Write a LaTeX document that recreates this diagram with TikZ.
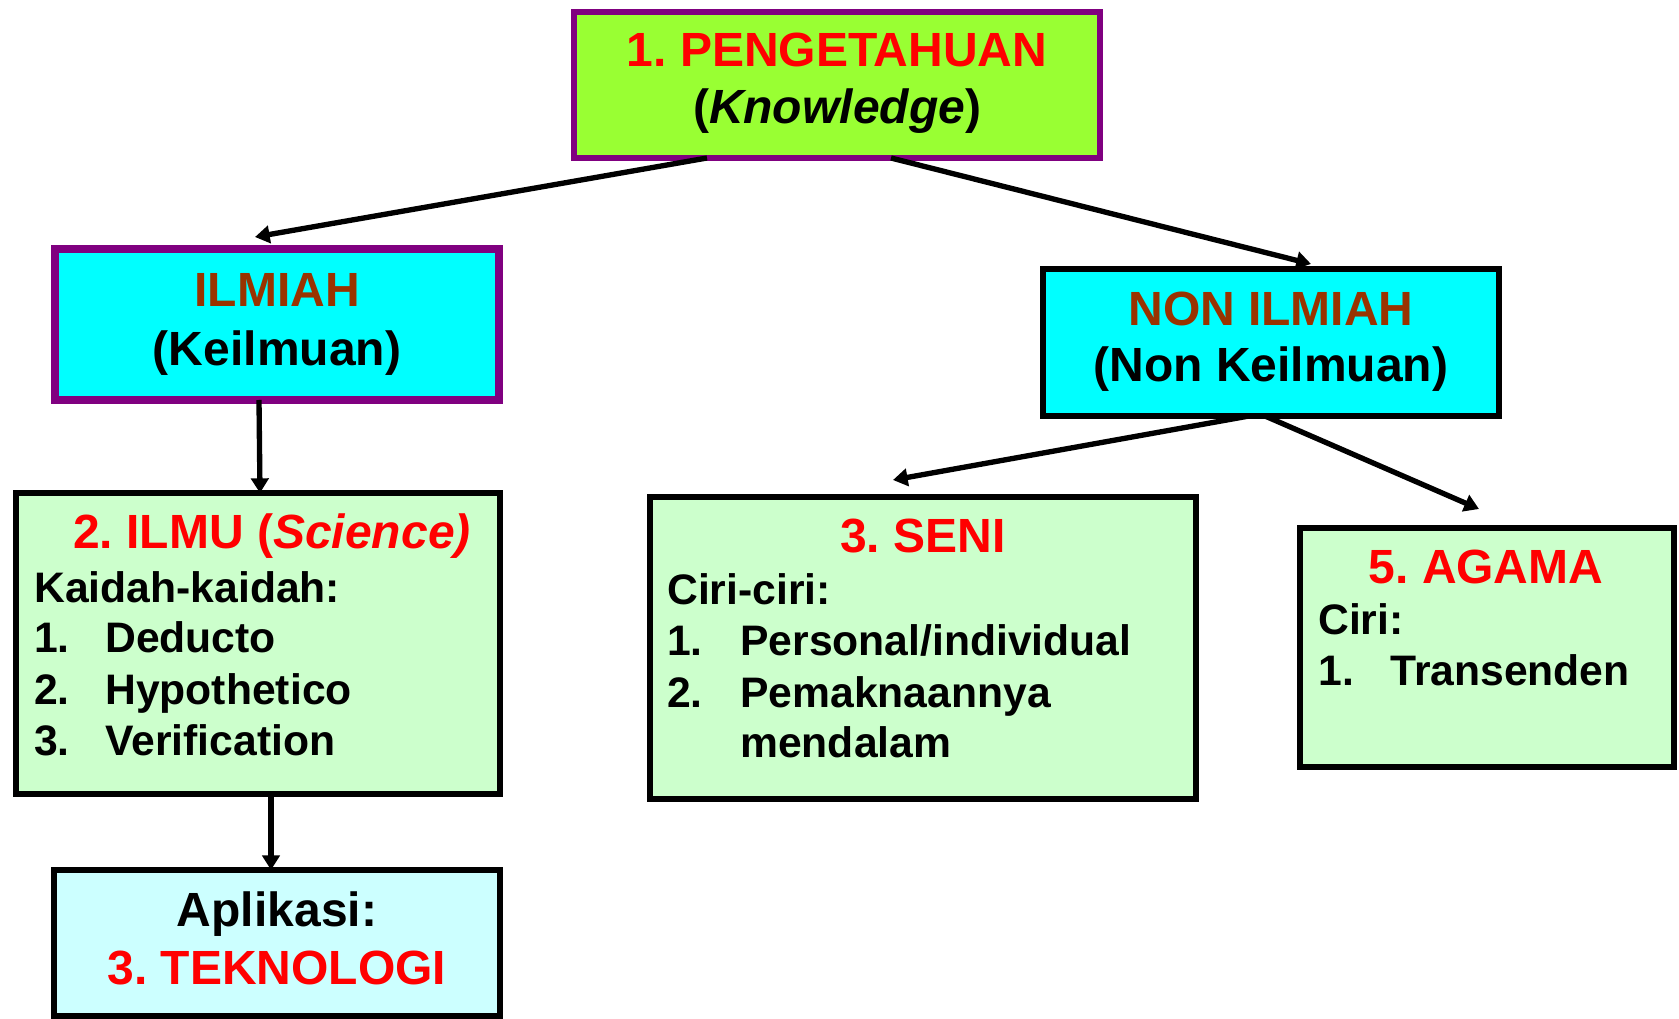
\documentclass[tikz,border=0pt]{standalone}
\usepackage{fontspec}
\setmainfont{Liberation Sans}
\usetikzlibrary{arrows.meta,calc}
\definecolor{purp}{HTML}{800080}
\definecolor{lime}{HTML}{99FF33}
\definecolor{cyanb}{HTML}{00FFFF}
\definecolor{brownt}{HTML}{993300}
\definecolor{redt}{HTML}{FF0000}
\definecolor{palegreen}{HTML}{CCFFCC}
\definecolor{palecyan}{HTML}{CCFFFF}
\frenchspacing
\begin{document}
\begin{tikzpicture}[x=0.75pt,y=-0.75pt,
  box/.style={draw, line width=4.8pt, inner sep=0pt, outer sep=0pt},
  sz/.style 2 args={minimum width=#1*0.75pt, minimum height=#2*0.75pt},
  ttl/.style={font=\fontsize{36}{43}\selectfont\bfseries, anchor=base, inner sep=0pt},
  ttlw/.style={font=\fontsize{36}{43}\selectfont\bfseries, anchor=base west, inner sep=0pt},
  txt/.style={font=\fontsize{32}{38}\selectfont\bfseries, anchor=base west, inner sep=0pt},
  arr/.style={line width=4pt, -{Triangle[length=11pt,width=13pt]}}]
\useasboundingbox (0,0) rectangle (1679,1019);

% boxes
\node[box, line width=4.3pt, draw=purp, fill=lime, sz={526}{146}] (top) at (837,85) {};
\node[box, line width=5.6pt, draw=purp, fill=cyanb, sz={444}{151}] (ilmiah) at (277,324.5) {};
\node[box, draw=black, fill=cyanb, sz={456}{147}] (non) at (1271,342.5) {};
\node[box, draw=black, fill=palegreen, sz={484}{301}] (ilmu) at (258,643.5) {};
\node[box, draw=black, fill=palecyan, sz={446}{146}] (apl) at (277,943) {};
\node[box, draw=black, fill=palegreen, sz={546}{302}] (seni) at (923,648) {};
\node[box, draw=black, fill=palegreen, sz={374}{239}] (agama) at (1487,647.5) {};

% texts
\node[ttl, text=redt] (t1a) at (837,67) {1. PENGETAHUAN};
\node[ttl] (t1b) at (837,124) {(\textit{Knowledge})};

\node[ttl, text=brownt] (t2a) at (277,307) {ILMIAH};
\node[ttl] (t2b) at (277,366) {(Keilmuan)};

\node[ttl, text=brownt] (t3a) at (1271,326) {NON ILMIAH};
\node[ttl] (t3b) at (1271,382) {(Non Keilmuan)};

\node[ttlw, text=redt] (t4a) at (73,549) {2. ILMU (\textit{Science)}};
\node[txt] (t4b) at (34,603) {Kaidah-kaidah:};
\node[txt] (t4c) at (34,653) {1.};
\node[txt] (t4d) at (105,653) {Deducto};
\node[txt] (t4e) at (34,705) {2.};
\node[txt] (t4f) at (105,705) {Hypothetico};
\node[txt] (t4g) at (34,755) {3.};
\node[txt] (t4h) at (105,755) {Verification};

\node[ttl] (t5a) at (277,926) {Aplikasi:};
\node[ttl, text=redt] (t5b) at (277,984) {3. TEKNOLOGI};

\node[ttl, text=redt] (t6a) at (923,553) {3. SENI};
\node[txt] (t6b) at (667,605) {Ciri-ciri:};
\node[txt] (t6c) at (667,656) {1.};
\node[txt] (t6d) at (740,656) {Personal/individual};
\node[txt] (t6e) at (667,708) {2.};
\node[txt] (t6f) at (740,708) {Pemaknaannya};
\node[txt] (t6g) at (740,758) {mendalam};

\node[ttl, text=redt] (t7a) at (1486,584) {5. AGAMA};
\node[txt] (t7b) at (1318,635) {Ciri:};
\node[txt] (t7c) at (1318,686) {1.};
\node[txt] (t7d) at (1390,686) {Transenden};

% connectors
\draw[arr] ($(top.south west)+(133,0)$) -- ($(ilmiah.north west)+(200,-12)$);
\draw[arr] ($(top.south west)+(317,0)$) -- ($(non.north west)+(268,-5)$);
\draw[arr] ($(ilmiah.south west)+(204,0)$) -- ($(ilmu.north west)+(244,0)$);
\draw[arr] ($(non.south west)+(206,0)$) -- ($(seni.north west)+(243,-17)$);
\draw[arr] ($(non.south west)+(222,0)$) -- ($(agama.north west)+(179,-19)$);
\draw[arr] ($(ilmu.south west)+(255,0)$) -- ($(apl.north west)+(217,0)$);
\end{tikzpicture}
\end{document}
